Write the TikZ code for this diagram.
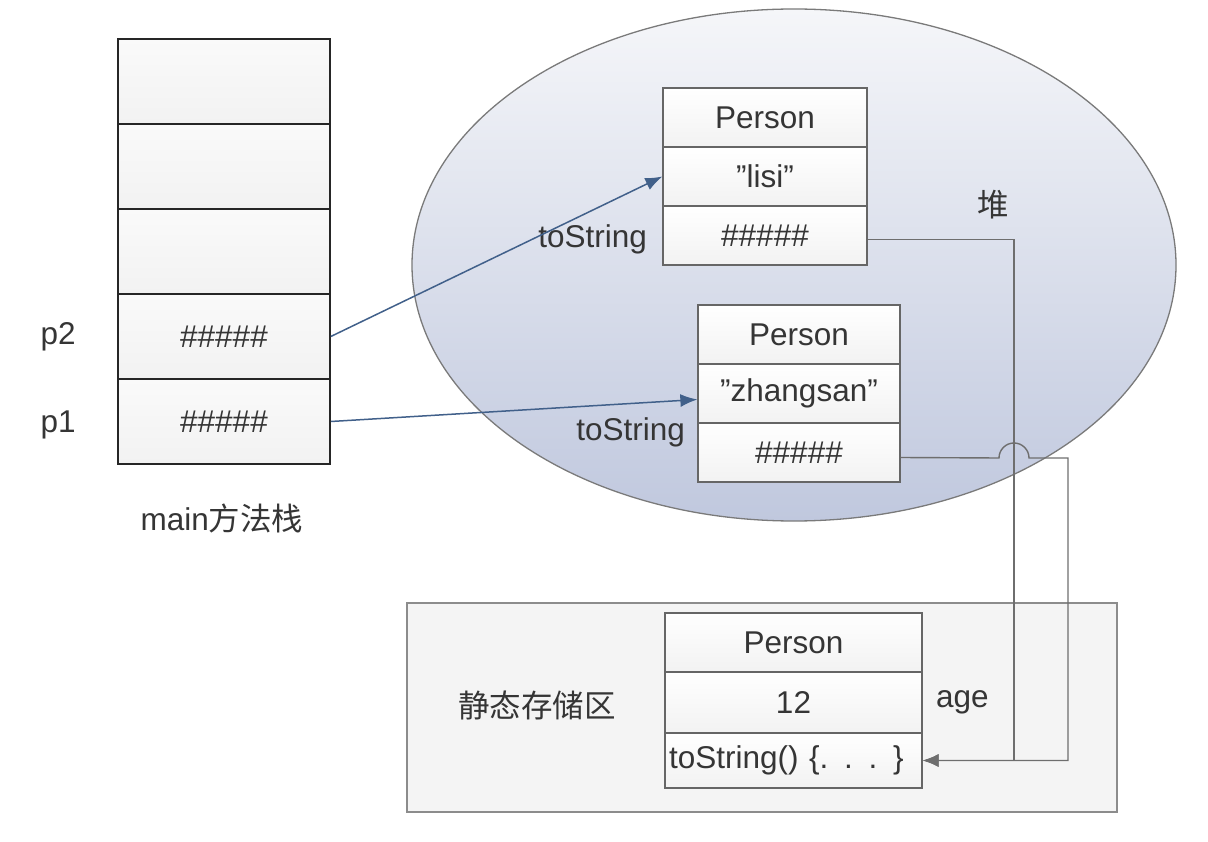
\documentclass[tikz,border=0pt]{standalone}
\usepackage{fontspec}
\setmainfont{Liberation Sans}
\newfontfamily\cjk{Noto Sans CJK SC}
\usetikzlibrary{shapes.geometric,arrows.meta,positioning}
\newcommand\bigtxt{\fontsize{31.5}{38}\selectfont}
\definecolor{txtcol}{HTML}{353535}
\definecolor{stackline}{HTML}{262626}
\definecolor{stackfill}{HTML}{F2F2F2}
\definecolor{boxline}{HTML}{666666}
\definecolor{refcol}{HTML}{41608A}
\definecolor{linkcol}{HTML}{6E6E6E}
\definecolor{heapline}{HTML}{7A7A7A}
\definecolor{heaptop}{HTML}{F5F6F9}
\definecolor{heapbot}{HTML}{C0C8DE}
\definecolor{staticfill}{HTML}{F4F4F4}
\definecolor{staticline}{HTML}{8C8C8C}
\tikzset{
  cell/.style={draw=stackline, top color=white!96!gray, bottom color=stackfill, line width=1.6pt, minimum width=212pt, minimum height=85pt, inner sep=0pt},
  field/.style={draw=boxline, top color=white, bottom color=gray!10, line width=1.3pt, minimum height=59pt, inner sep=0pt},
  ref/.style={-{Latex[length=17pt,width=13pt]}, draw=refcol, line width=1.5pt},
  link/.style={-{Latex[length=16pt,width=13pt]}, draw=linkcol, line width=1.4pt},
}
\begin{document}
\begin{tikzpicture}[x=1pt, y=-1pt, font=\bigtxt, text=txtcol]
\useasboundingbox (0,0) rectangle (1208,842);
% heap and static area
\node[draw=heapline, line width=1.3pt, ellipse, top color=heaptop, bottom color=heapbot, minimum width=764pt, minimum height=512pt] (heap) at (794,265) {};
\node[draw=staticline, fill=staticfill, line width=1.3pt, minimum width=710pt, minimum height=209pt] (static) at (762,707.5) {};
% main stack
\node[cell] (s5) at (224,81.5) {};
\node[cell] (s4) at (224,166.5) {};
\node[cell] (s3) at (224,251.5) {};
\node[cell, label={[text=txtcol, label distance=38pt]left:p2}] (p2) at (224,336.5) {\#\#\#\#\#};
\node[cell, label={[text=txtcol, label distance=38pt, yshift=-3pt]left:p1}] (p1) at (224,421.5) {\#\#\#\#\#};
\node (stack) at (222,518) {main{\cjk 方法栈}};
% Person "lisi"
\node[field, minimum width=204pt] (c1) at (765,117.5) {Person};
\node[field, minimum width=204pt] (lisi) at (765,176.5) {”lisi”};
\node[field, minimum width=204pt, label={[text=txtcol, xshift=-12pt, yshift=-4pt]left:toString}] (h1) at (765,235.5) {\#\#\#\#\#};
% Person "zhangsan"
\node[field, minimum width=202pt] (c2) at (799,334.5) {Person};
\node[field, minimum width=202pt] (zs) at (799,393.5) {”zhangsan”};
\node[field, minimum width=202pt, label={[text=txtcol, yshift=20pt, xshift=-9pt]left:toString}] (h2) at (799,452.5) {\#\#\#\#\#};
\node (heaplbl) at (993,205) {\cjk 堆};
% Person in static area
\node (statlbl) at (537,705) {\cjk 静态存储区};
\node[field, minimum width=257pt] (c3) at (793.5,642.5) {Person};
\node[field, minimum width=257pt, minimum height=61pt, label={[text=txtcol, xshift=10pt]right:age}] (age) at (793.5,702.5) {12};
\node[field, minimum width=257pt, minimum height=55pt, text width=249pt, inner xsep=4pt, align=left] (meth) at (793.5,760.5) {toString() \{. . . \}};
% references
\draw[ref] (p2.east) -- (lisi.west);
\draw[ref] (p1.east) -- ([yshift=-6pt]zs.west);
\coordinate (bend1) at (1014,760.5);
\coordinate (bend2) at (1068,760.5);
\draw[link] ([yshift=-4pt]h1.east) -| (bend1) -- (meth.east);
\draw[link] ([yshift=-5pt]h2.east) -- (999,458) arc[start angle=180, end angle=360, radius=15] -| (bend2) -- (meth.east);
\end{tikzpicture}
\end{document}
